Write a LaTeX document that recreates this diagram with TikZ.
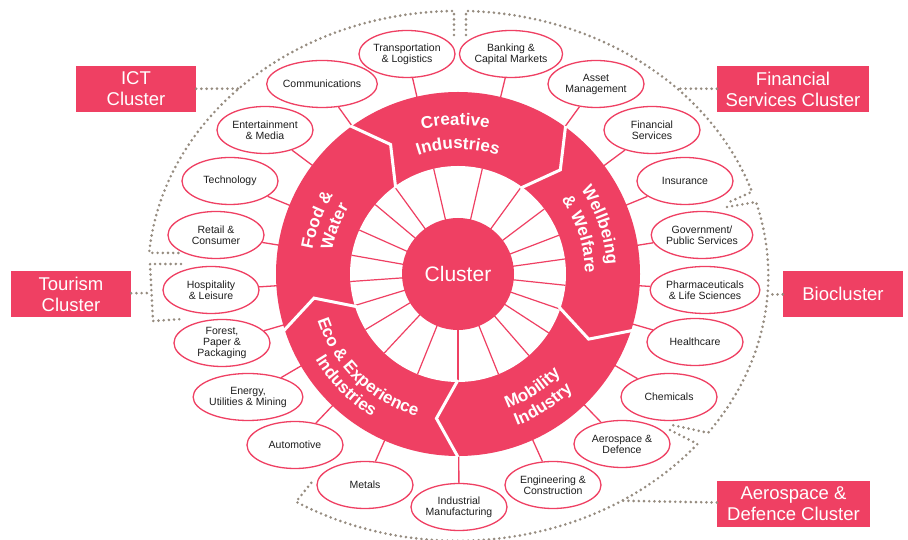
\documentclass[tikz,border=0pt]{standalone}
\usepackage{fontspec}
\setmainfont{Liberation Sans}
\usetikzlibrary{shapes.geometric,decorations.text,calc}

\definecolor{clpink}{RGB}{239,64,99}
\definecolor{dotgray}{RGB}{150,140,128}
\definecolor{txtgray}{RGB}{30,30,30}

\newcommand{\segfont}{\fontsize{17}{20}\selectfont\bfseries\color{white}}

\tikzset{
  sector/.style={ellipse, draw=clpink, line width=1.3pt, fill=white, minimum width=96pt, minimum height=47pt, inner sep=0pt, align=center, text=txtgray, font=\fontsize{10.5}{11}\selectfont},
  clusterbox/.style={rectangle, fill=clpink, text=white, minimum width=120pt, minimum height=46pt, inner sep=0pt, align=center, font=\fontsize{18.5}{21}\selectfont},
  link/.style={draw=clpink, line width=1.3pt},
  dotline/.style={draw=dotgray, line width=2.9pt, line cap=round, dash pattern=on 0pt off 5.2pt},
  spoke/.style={draw=clpink, line width=1.2pt},
  cut/.style={draw=white, line width=3pt, line join=miter},
  seglabel/.style={decorate, decoration={text along path, text align=center, text={|\segfont|#1}}}
}

\begin{document}
\begin{tikzpicture}[x=1pt, y=1pt]
	\fill[white] (0,0) rectangle (908,540);
	\useasboundingbox (0,0) rectangle (908,540);
	\coordinate (c) at (458,266);
	\coordinate (o) at (458,264);

	% Define nodes
	\node[sector] (transport) at (407,486) {Transportation\\\& Logistics};
	\node[sector] (banking)   at (511,486) {Banking \&\\Capital Markets};
	\node[sector] (asset)     at (596,456) {Asset\\Management};
	\node[sector] (finserv)   at (652,410) {Financial\\Services};
	\node[sector] (insur)     at (685,359) {Insurance};
	\node[sector] (govt)      at (702,305) {Government/\\Public Services};
	\node[sector] (pharma)    at (705,250) {Pharmaceuticals\\\& Life Sciences};
	\node[sector] (health)    at (695,198) {Healthcare};
	\node[sector] (chem)      at (669,143) {Chemicals};
	\node[sector] (aerodef)   at (622,96)  {Aerospace \&\\Defence};
	\node[sector] (engin)     at (553,55)  {Engineering \&\\Construction};
	\node[sector] (indman)    at (459,33)  {Industrial\\Manufacturing};
	\node[sector] (metals)    at (365,55)  {Metals};
	\node[sector] (auto)      at (295,95)  {Automotive};
	\node[sector] (energy)    at (248,143) {Energy,\\Utilities \& Mining};
	\node[sector] (forest)    at (222,197) {Forest,\\Paper \&\\Packaging};
	\node[sector] (hosp)      at (211,250) {Hospitality\\\& Leisure};
	\node[sector] (retail)    at (216,305) {Retail \&\\Consumer};
	\node[sector] (tech)      at (230,359) {Technology};
	\node[sector] (entert)    at (265,410) {Entertainment\\\& Media};
	\node[sector] (comms)     at (322,456) {Communications};

	\node[clusterbox] (ict)  at (136,451) {ICT\\Cluster};
	\node[clusterbox, minimum width=152pt] (fin) at (793,451) {Financial\\Services Cluster};
	\node[clusterbox] (tour) at (71,246) {Tourism\\Cluster};
	\node[clusterbox] (bio)  at (843,246) {Biocluster};
	\node[clusterbox, minimum width=153pt] (aero) at (793.5,36) {Aerospace \&\\Defence Cluster};

	% Connect the nodes
	\foreach \n in {transport,banking,asset,finserv,insur,govt,pharma,health,chem,aerodef,engin,indman,metals,auto,energy,forest,hosp,retail,tech,entert,comms}
		\draw[link] (\n) -- (c);

	% Wheel
	\fill[clpink] (c) circle[radius=182];
	\fill[white] (c) circle[radius=108];
	\foreach \a in {103,126,140,156,170,184,197,211,227,248,270,292,311,327,341,354,8,21,37,54,77}
		\draw[spoke] ([shift={(\a:55)}]c) -- ([shift={(\a:108)}]c);
	\node[circle, fill=clpink, minimum size=112pt, inner sep=0pt, text=white, font=\fontsize{21}{24}\selectfont] (hub) at (c) {Cluster};
	\foreach \b in {126,54,-18,-90,-162}
		\draw[cut] ([shift={(\b:106)}]c) -- ([shift={(\b-8.5:146)}]c) -- ([shift={(\b:183)}]c);

	% Segment labels
	\path[seglabel={Creative}]   ([shift={(131:149)}]c) arc[start angle=131, end angle=51, radius=149];
	\path[seglabel={Industries}] ([shift={(130:125)}]c) arc[start angle=130, end angle=50, radius=125];
	\path[seglabel={Food {\&}}]  ([shift={(199:147.5)}]c) arc[start angle=199, end angle=119, radius=147.5];
	\path[seglabel={Water}]      ([shift={(199:128)}]c) arc[start angle=199, end angle=119, radius=128];
	\path[seglabel={Wellbeing}]  ([shift={(59:149)}]c) arc[start angle=59, end angle=-21, radius=149];
	\path[seglabel={{\&} Welfare}] ([shift={(58:127)}]c) arc[start angle=58, end angle=-22, radius=127];
	\path[seglabel={Mobility}]   ([shift={(-97:143.5)}]c) arc[start angle=-97, end angle=-17, radius=143.5];
	\path[seglabel={Industry}]   ([shift={(-97:163)}]c) arc[start angle=-97, end angle=-17, radius=163];
	\path[seglabel={Eco {\&} Experience}] ([shift={(186:148)}]c) arc[start angle=186, end angle=266, radius=148];
	\path[seglabel={Industries}] ([shift={(185:166.5)}]c) arc[start angle=185, end angle=265, radius=166.5];

	% Cluster groups
	\draw[dotline] (454,505) -- (454,529) arc[start angle=90.74, end angle=175, x radius=310, y radius=265] -- (180,287);
	\draw[dotline] (466,505) -- (466,529) arc[start angle=88.52, end angle=18.5, x radius=310, y radius=265] -- (727,337);
	\draw[dotline] (727,333) -- (756,338) arc[start angle=16.2, end angle=-36.3, x radius=310, y radius=265] -- (672,115);
	\draw[dotline] (670,110) -- (697.5,96) arc[start angle=-39.4, end angle=-121.5, x radius=310, y radius=265] -- (312,58);
	\draw[dotline] (181,276) -- (150,276) -- (153,219) -- (183,221);

	\coordinate (ictjoin)  at ($(o)+({310*cos(135)},{265*sin(135)})$);
	\coordinate (finjoin)  at ($(o)+({310*cos(45)},{265*sin(45)})$);
	\coordinate (biojoin)  at ($(o)+({310*cos(-4)},{265*sin(-4)})$);
	\coordinate (aerojoin) at ($(o)+({310*cos(-58)},{265*sin(-58)})$);
	\coordinate (tourjoin) at (151.5,247);
	\draw[dotline] (ict) -- (ictjoin);
	\draw[dotline] (fin) -- (finjoin);
	\draw[dotline] (bio) -- (biojoin);
	\draw[dotline] (aero) -- (aerojoin);
	\draw[dotline] (tour) -- (tourjoin);
\end{tikzpicture}
\end{document}
